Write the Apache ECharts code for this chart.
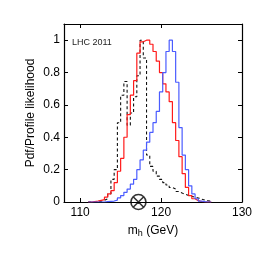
<!DOCTYPE html>
<html><head><meta charset="utf-8">
<script src="https://cdn.jsdelivr.net/npm/echarts@6/dist/echarts.min.js"></script>
<style>html,body{margin:0;padding:0;background:#fff}#c{width:266px;height:266px}</style>
</head><body><div id="c"></div>
<script>
// Left edges of the histogram bins (GeV), bin width 0.4
var binEdges = [111.0,111.4,111.8,112.2,112.6,113.0,113.4,113.8,114.2,114.6,115.0,115.4,115.8,116.2,116.6,117.0,117.4,117.8,118.2,118.6,119.0,119.4,119.8,120.2,120.6,121.0,121.4,121.8,122.2,122.6,123.0,123.4,123.8,124.2,124.6,125.0,125.4,125.8];
var binEnd = 126.2;
var redPdf = [0,0.003,0.005,0.01,0.015,0.03,0.05,0.07,0.12,0.19,0.27,0.40,0.54,0.66,0.75,0.92,0.99,1.0,1.0,0.975,0.93,0.87,0.80,0.73,0.68,0.62,0.49,0.38,0.28,0.175,0.09,0.04,0.02,0.008,0.003,0,0,0];
var bluePdf = [0,0,0,0,0,0.002,0.004,0.006,0.012,0.025,0.04,0.06,0.08,0.11,0.14,0.20,0.26,0.32,0.37,0.43,0.49,0.56,0.68,0.80,0.93,1.0,0.93,0.74,0.46,0.29,0.20,0.10,0.05,0.02,0.006,0.002,0,0];
var profileLik = [0,0,0.002,0.005,0.01,0.02,0.05,0.14,0.20,0.49,0.66,0.745,0.475,0.55,0.65,0.78,1.0,0.89,0.29,0.22,0.19,0.16,0.14,0.12,0.105,0.09,0.08,0.065,0.055,0.048,0.04,0.035,0.03,0.025,0.018,0.012,0.008,0.004];
var markerMass = [117.2];
var xTicks = [110,120,130];
var yTicks = [0,0.2,0.4,0.6,0.8,1];

function hist(vals){
  var d = binEdges.map(function(e,i){return [e, vals[i]];});
  d.push([binEnd, vals[vals.length-1]]);
  return d;
}
var font = 'Liberation Sans, Arial, sans-serif';
var chart = echarts.init(document.getElementById('c'), null, {renderer:'canvas'});
var xCommon = {type:'value', min:108, max:130,
  axisLine:{show:true,onZero:false,lineStyle:{color:'#000',width:1.2}},
  splitLine:{show:false}};
var yCommon = {type:'value', min:0, max:1.1,
  axisLine:{show:true,onZero:false,lineStyle:{color:'#000',width:1.2}},
  splitLine:{show:false}};
chart.setOption({
  animation:false,
  backgroundColor:'#fff',
  grid:{left:64, top:24, width:178, height:178, containLabel:false},
  xAxis:[
    Object.assign({}, xCommon, {position:'bottom',
      axisTick:{show:true,inside:true,length:4,customValues:xTicks,lineStyle:{color:'#000'}},
      axisLabel:{show:true,customValues:xTicks,color:'#000',fontSize:12,fontFamily:font,margin:5},
      name:'{m|m}{s|h} (GeV)', nameLocation:'middle', nameGap:21, nameMoveOverlap:false,
      nameTextStyle:{color:'#000',fontSize:12,fontFamily:font,
        rich:{m:{fontSize:12,fontFamily:font,color:'#000'},s:{fontSize:9,fontFamily:font,color:'#000',verticalAlign:'bottom',padding:[6,0,0,0]}}}}),
    Object.assign({}, xCommon, {position:'top',
      axisTick:{show:true,inside:true,length:4,customValues:xTicks,lineStyle:{color:'#000'}},
      axisLabel:{show:false}})
  ],
  yAxis:[
    Object.assign({}, yCommon, {position:'left',
      axisTick:{show:true,inside:true,length:4,customValues:yTicks,lineStyle:{color:'#000'}},
      axisLabel:{show:true,customValues:yTicks,color:'#000',fontSize:12,fontFamily:font,margin:4},
      name:'Pdf/Profile likelihood', nameLocation:'middle', nameGap:27, nameRotate:90, nameMoveOverlap:false,
      nameTextStyle:{color:'#000',fontSize:12,fontFamily:font}}),
    Object.assign({}, yCommon, {position:'right',
      axisTick:{show:true,inside:true,length:4,customValues:yTicks,lineStyle:{color:'#000'}},
      axisLabel:{show:false}})
  ],
  graphic:[{type:'text', left:72, top:38, style:{text:'LHC 2011', fill:'#222', font:'9px '+font}}],
  series:[
    {type:'line', step:'end', data:hist(profileLik), symbol:'none', clip:true,
     lineStyle:{color:'#111', width:1.1, type:[3,2.5]}},
    {type:'line', step:'end', data:hist(redPdf), symbol:'none', clip:true,
     lineStyle:{color:'#ff1a1a', width:1.2}},
    {type:'line', step:'end', data:hist(bluePdf), symbol:'none', clip:true,
     lineStyle:{color:'#4a5cff', width:1.2}},
    {type:'scatter', data:markerMass.map(function(m){return [m,0];}), clip:false, z:10,
     symbol:'path://M0,-10A10,10,0,1,1,0,10A10,10,0,1,1,0,-10ZM-7.07,-7.07L7.07,7.07M7.07,-7.07L-7.07,7.07',
     symbolSize:15, itemStyle:{color:'rgba(0,0,0,0)', borderColor:'#000', borderWidth:1.6}}
  ]
});
</script></body></html>
